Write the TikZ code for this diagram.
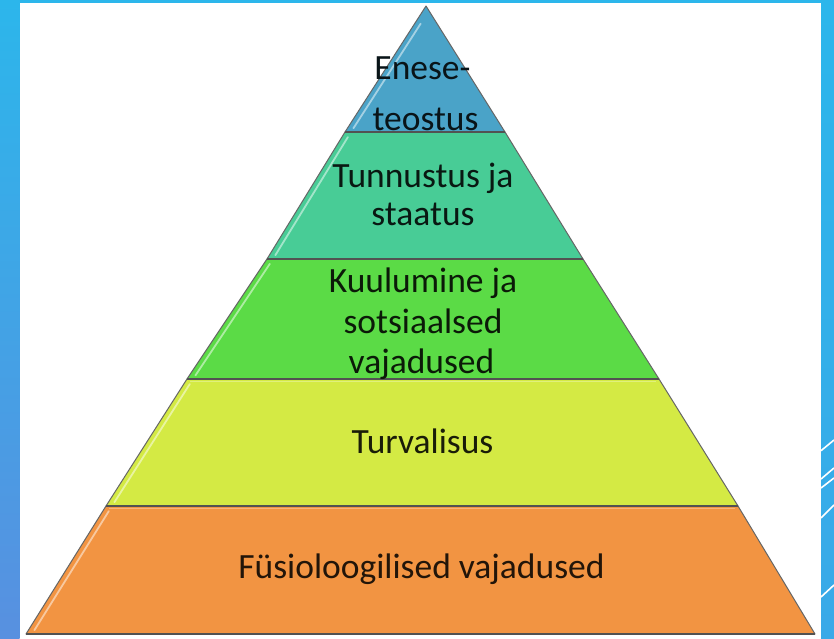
\documentclass[tikz,border=0pt]{standalone}
\usepackage{fontspec}
\setmainfont{Carlito}
\usetikzlibrary{calc}
\definecolor{stripTop}{HTML}{2CB6EB}
\definecolor{stripLeftBot}{HTML}{5890E0}
\definecolor{stripRightBot}{HTML}{3AA9E8}
\definecolor{cA}{HTML}{4AA3C8}
\definecolor{cB}{HTML}{48CC96}
\definecolor{cC}{HTML}{5BDB46}
\definecolor{cD}{HTML}{D4EA44}
\definecolor{cE}{HTML}{F29442}
\begin{document}
\begin{tikzpicture}[x=1pt,y=-1pt,
  layer/.style={draw=black!60, line width=1pt, line join=round},
  bottomedge/.style={draw=black!68, line width=1.6pt},
  gloss/.style={white, opacity=0.5, line width=1.8pt, line cap=round},
  topgloss/.style={white, opacity=0.3, line width=1pt},
  deco/.style={white, line width=1.6pt},
  lbl/.style={anchor=base, inner sep=0pt, font=\fontsize{35.5}{42}\selectfont}]
\useasboundingbox (0,0) rectangle (834,638);
% background frame
\shade[top color=stripTop, bottom color=stripLeftBot] (0,0) rectangle (19.5,638);
\shade[top color=stripTop, bottom color=stripRightBot] (821,0) rectangle (834,638);
\fill[stripTop] (0,0) rectangle (834,3);
\fill[white] (19.5,3) rectangle (821,638);
% decorative lines on right strip
\draw[deco] (821,450.7) -- (834,440);
\draw[deco] (821,479) -- (834,468);
\draw[deco] (821,488) -- (834,478);
\draw[deco] (821,518) -- (834,505);
\draw[deco] (821,597) -- (834,585);
% pyramid vertices
\coordinate (a0) at (426,6);
\coordinate (b1l) at (345,132); \coordinate (b1r) at (505,132);
\coordinate (b2l) at (267,259); \coordinate (b2r) at (583,259);
\coordinate (b3l) at (187,379); \coordinate (b3r) at (659,379);
\coordinate (b4l) at (106,506); \coordinate (b4r) at (738,506);
\coordinate (b5l) at (26,634);  \coordinate (b5r) at (815,634);
% layers
\filldraw[layer, fill=cE] (b4l) -- (b4r) -- (b5r) -- (b5l) -- cycle;
\filldraw[layer, fill=cD] (b3l) -- (b3r) -- (b4r) -- (b4l) -- cycle;
\filldraw[layer, fill=cC] (b2l) -- (b2r) -- (b3r) -- (b3l) -- cycle;
\filldraw[layer, fill=cB] (b1l) -- (b1r) -- (b2r) -- (b2l) -- cycle;
\filldraw[layer, fill=cA] (a0) -- (b1r) -- (b1l) -- cycle;
% bevel highlights
\draw[gloss] ($(a0)!0.14!(b1l)+(6,0)$) -- ($(a0)!0.97!(b1l)+(6,0)$);
\draw[gloss] ($(b1l)!0.04!(b2l)+(6,0)$) -- ($(b1l)!0.97!(b2l)+(6,0)$);
\draw[gloss] ($(b2l)!0.04!(b3l)+(6,0)$) -- ($(b2l)!0.97!(b3l)+(6,0)$);
\draw[gloss] ($(b3l)!0.04!(b4l)+(6,0)$) -- ($(b3l)!0.97!(b4l)+(6,0)$);
\draw[gloss] ($(b4l)!0.04!(b5l)+(6,0)$) -- ($(b4l)!0.97!(b5l)+(6,0)$);
\draw[topgloss] ($(b4l)+(3,2.5)$) -- ($(b4r)+(-3,2.5)$);
\draw[topgloss] ($(b3l)+(3,2.5)$) -- ($(b3r)+(-3,2.5)$);
% shaded bottom edges
\draw[bottomedge] (b1l) -- (b1r);
\draw[bottomedge] (b2l) -- (b2r);
\draw[bottomedge] (b3l) -- (b3r);
\draw[bottomedge] (b4l) -- (b4r);
\draw[bottomedge] (b5l) -- (b5r);
% labels
\node[lbl, text=cA!12!black] (e1) at (422.5,79) {Enese-};
\node[lbl, text=cA!12!black] (e2) at (425.5,130) {teostus};
\node[lbl, text=cB!12!black] (t1) at (423,187) {Tunnustus ja};
\node[lbl, text=cB!12!black] (t2) at (423,225) {staatus};
\node[lbl, text=cC!12!black] (k1) at (423,292) {Kuulumine ja};
\node[lbl, text=cC!12!black] (k2) at (423,333) {sotsiaalsed};
\node[lbl, text=cC!12!black] (k3) at (421.5,373) {vajadused};
\node[lbl, text=cD!12!black] (v1) at (422.5,453) {Turvalisus};
\node[lbl, text=cE!14!black] (f1) at (421.5,578) {Füsioloogilised vajadused};
\end{tikzpicture}
\end{document}
